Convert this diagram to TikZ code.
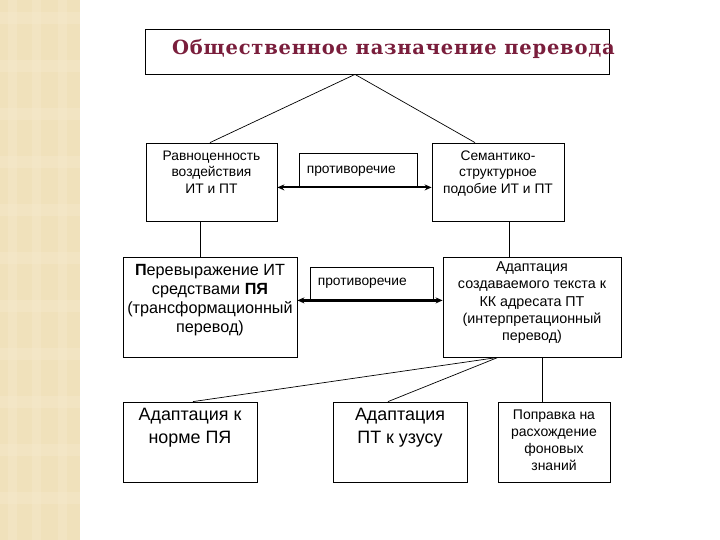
\documentclass[tikz,border=0pt]{standalone}
\usepackage{fontspec}
\setmainfont{Liberation Sans}
\newfontfamily\titlefont[LetterSpace=4]{DejaVu Serif}
\usetikzlibrary{arrows.meta,positioning,calc}
\definecolor{maroon}{HTML}{7A1E3C}
\definecolor{beige}{HTML}{F0E1BB}
\definecolor{beigelight}{HTML}{F6ECD0}
\tikzset{
  box/.style={draw=black, line width=.8pt, fill=white, inner sep=0pt},
  txt/.style={anchor=north, align=center, inner sep=0pt, text=black},
  conn/.style={draw=black, line width=.7pt},
  contra/.style={{Stealth[length=7pt,width=6pt]}-{Stealth[length=7pt,width=6pt]}, draw=black, line width=2.2pt}
}

\begin{document}
\begin{tikzpicture}[x=1pt,y=-1pt]
  \useasboundingbox (0,0) rectangle (720,540);
  % decorative strip on the left
  \fill[beige] (0,0) rectangle (80,540);
  \foreach \x in {8,32,58} \fill[beigelight, opacity=.35] (\x,0) rectangle (\x+9,540);
  \foreach \y in {0,48,...,528} \fill[beigelight, opacity=.35] (0,\y+12) rectangle (80,\y+24);

  % title
  \node[box, minimum width=464pt, minimum height=45pt] (title) at (377,51.5) {};
  \node[anchor=west, inner sep=0pt, text=maroon, font=\titlefont\bfseries\fontsize{19.5}{22}\selectfont] (titletext) at (172,49) {Общественное назначение перевода};

  % upper row
  \node[box, minimum width=131pt, minimum height=78pt] (equiv) at (211.5,182) {};
  \node[txt, font=\fontsize{13.8}{16.5}\selectfont] (equivtext) at ([yshift=-8pt]equiv.north) {Равноценность\\воздействия\\ИТ и ПТ};
  \node[box, minimum width=132pt, minimum height=78pt] (semantic) at (498,182) {};
  \node[txt, font=\fontsize{13.8}{16.5}\selectfont] (semantictext) at ([yshift=-8pt]semantic.north) {Семантико-\\структурное\\подобие ИТ и ПТ};
  \node[box, minimum width=118pt, minimum height=34pt] (contra1) at (358,170) {};
  \node[anchor=west, inner sep=0pt, font=\fontsize{13.8}{15}\selectfont] (contra1text) at ([xshift=8pt,yshift=-1pt]contra1.west) {противоречие};

  % middle row
  \node[box, minimum width=174pt, minimum height=100pt] (transform) at (210,307) {};
  \node[txt, font=\fontsize{16.2}{19}\selectfont] (transformtext) at ([yshift=-8pt]transform.north)
    {\textbf{П}еревыражение ИТ\\средствами \textbf{ПЯ}\\(трансформационный\\перевод)};
  \node[box, minimum width=178pt, minimum height=100pt] (interp) at (532,307) {};
  \node[txt, font=\fontsize{14.3}{17.2}\selectfont] (interptext) at ([yshift=-5pt]interp.north)
    {Адаптация\\создаваемого текста к\\КК адресата ПТ\\(интерпретационный\\перевод)};
  \node[box, minimum width=123pt, minimum height=33pt] (contra2) at (371.5,283.5) {};
  \node[anchor=west, inner sep=0pt, font=\fontsize{13.8}{15}\selectfont] (contra2text) at ([xshift=8pt,yshift=0pt]contra2.west) {противоречие};

  % lower row
  \node[box, minimum width=134pt, minimum height=80pt] (norm) at (190,442) {};
  \node[txt, font=\fontsize{17.9}{23}\selectfont] (normtext) at ([yshift=-6pt]norm.north) {Адаптация к\\норме ПЯ};
  \node[box, minimum width=134pt, minimum height=80pt] (usus) at (400,442) {};
  \node[txt, font=\fontsize{17.9}{23}\selectfont] (usustext) at ([yshift=-6pt]usus.north) {Адаптация\\ПТ к узусу};
  \node[box, minimum width=112pt, minimum height=80pt] (fix) at (554,442) {};
  \node[txt, font=\fontsize{14}{17}\selectfont] (fixtext) at ([yshift=-8pt]fix.north) {Поправка на\\расхождение\\фоновых\\знаний};

  % connectors
  \draw[conn] ([xshift=-22pt]title.south) -- ([xshift=-1.5pt]equiv.north);
  \draw[conn] ([xshift=-22pt]title.south) -- ([xshift=-23pt]semantic.north);
  \draw[conn] ([xshift=-11pt]equiv.south) -- ([xshift=-11pt]equiv.south |- transform.north);
  \draw[conn] ([xshift=11pt]semantic.south) -- ([xshift=11pt]semantic.south |- interp.north);
  \draw[conn] ([xshift=-34pt]interp.south) -- ([xshift=3pt]norm.north);
  \draw[conn] ([xshift=-34pt]interp.south) -- ([xshift=-12pt]usus.north);
  \draw[conn] ([xshift=10pt]interp.south) -- ([xshift=10pt]interp.south |- fix.north);
  \draw[contra] (equiv.east |- contra1.south) -- (semantic.west |- contra1.south);
  \draw[contra] (transform.east |- contra2.south) -- (interp.west |- contra2.south);
\end{tikzpicture}
\end{document}
